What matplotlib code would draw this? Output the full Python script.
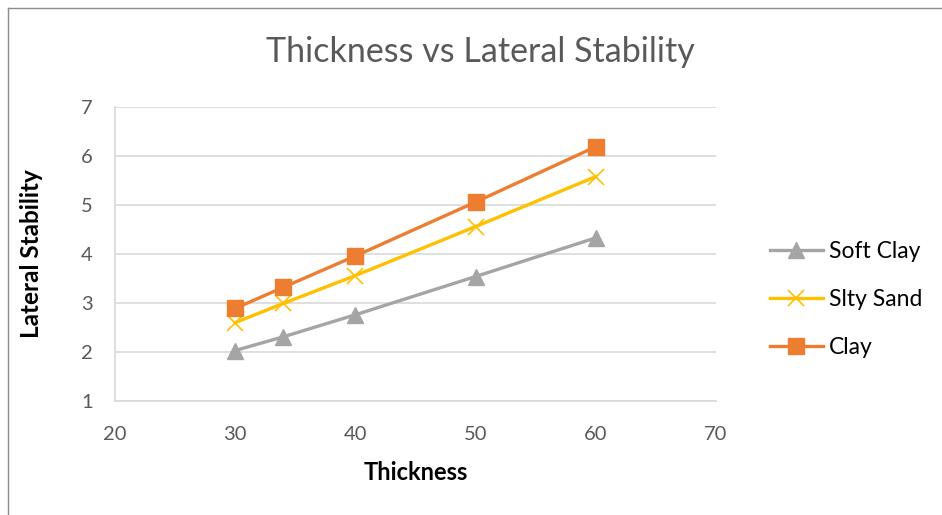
import matplotlib
matplotlib.use("Agg")
import matplotlib.pyplot as plt
from matplotlib.lines import Line2D

plt.rcParams['font.family'] = ['Lato', 'DejaVu Sans']

thickness = [30, 34, 40, 50, 60]
soft_clay = [2.03, 2.31, 2.76, 3.54, 4.33]
silty_sand = [2.60, 2.99, 3.56, 4.56, 5.58]
clay = [2.89, 3.32, 3.96, 5.06, 6.19]

series_names = ['Soft Clay', 'Slty Sand', 'Clay']
x_ticks = [20, 30, 40, 50, 60, 70]
y_ticks = [1, 2, 3, 4, 5, 6, 7]

fig = plt.figure(figsize=(9.42, 5.15), dpi=100)
ax = fig.add_axes([115 / 942, 1 - 401 / 515, (716 - 115) / 942, (401 - 107) / 515])

# outer frame of the embedded chart (left and top edges visible)
fig.add_artist(Line2D([8 / 942, 8 / 942], [0, 1 - 8 / 515], color='#8c8c8c', lw=1))
fig.add_artist(Line2D([8 / 942, 1], [1 - 8 / 515, 1 - 8 / 515], color='#8c8c8c', lw=1))

ax.plot(thickness, soft_clay, color='#a5a5a5', lw=2.4, marker='^', ms=11.5,
        label=series_names[0], zorder=3)
ax.plot(thickness, silty_sand, color='#ffc000', lw=2.4, marker='x', ms=11,
        mew=1.2, label=series_names[1], zorder=3)
ax.plot(thickness, clay, color='#ed7d31', lw=2.4, marker='s', ms=11.5,
        label=series_names[2], zorder=3)

ax.set_xlim(20, 70)
ax.set_ylim(1, 7)
ax.set_xticks(x_ticks)
ax.set_yticks(y_ticks)
ax.grid(axis='y', color='#d9d9d9', lw=1.2)
ax.set_axisbelow(True)
for s in ['top', 'right']:
    ax.spines[s].set_visible(False)
for s in ['left', 'bottom']:
    ax.spines[s].set_color('#d9d9d9')
    ax.spines[s].set_linewidth(1.2)
ax.tick_params(length=0, labelsize=14.5, labelcolor='#595959')
ax.tick_params(axis='x', pad=18)
ax.tick_params(axis='y', pad=16)

fig.text(480 / 942, 1 - 52 / 515, 'Thickness vs Lateral Stability', fontsize=24.5,
         color='#595959', ha='center', va='center')
ax.set_xlabel('Thickness', fontsize=17, fontweight='bold')
ax.set_ylabel('Lateral Stability', fontsize=17.5, fontweight='bold')
ax.xaxis.set_label_coords(0.5, (401 - 461) / 294)
ax.yaxis.set_label_coords((43 - 115) / 601, 0.5)

ax.legend(loc='center left', bbox_to_anchor=(1.09, 0.344), frameon=False,
          fontsize=16.5, handlelength=2.3, handletextpad=0.25, labelspacing=1.18,
          borderpad=0, borderaxespad=0)

fig.savefig('out.png', dpi=100)
